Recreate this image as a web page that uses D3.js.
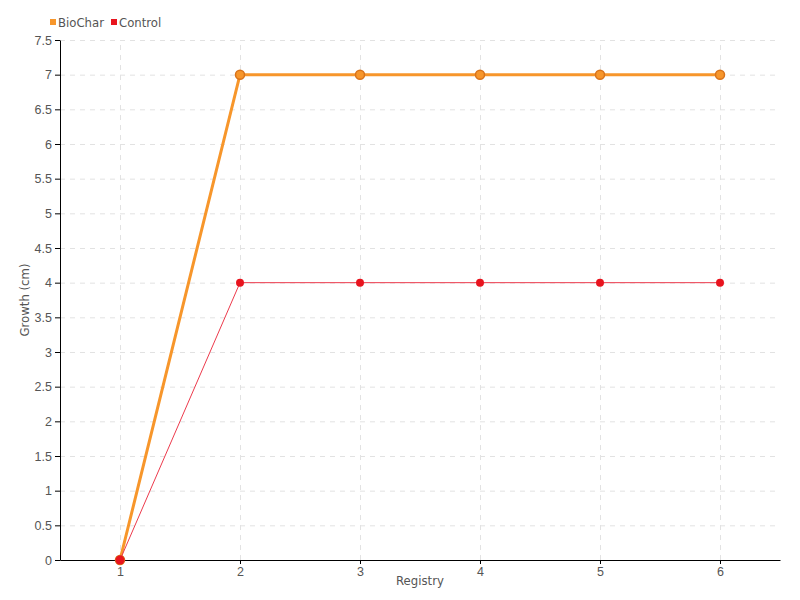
<!DOCTYPE html>
<style>
body { margin: 0; background: #fff; }
svg { font-family: "DejaVu Sans Condensed", sans-serif; }
.grid line { stroke: #e2e2e2; stroke-dasharray: 5,5; }
.grid path { display: none; }
.axis text { fill: #555; font-size: 12.5px; }
.axis path, .axis line { stroke: #000; }
</style>
<svg width="800" height="600"></svg>
<script src="https://cdn.jsdelivr.net/npm/d3@7"></script>
<script>

var registry = [1, 2, 3, 4, 5, 6];
var biochar = [0, 7, 7, 7, 7, 7];
var control = [0, 4, 4, 4, 4, 4];
var yTicks = [0, 0.5, 1, 1.5, 2, 2.5, 3, 3.5, 4, 4.5, 5, 5.5, 6, 6.5, 7, 7.5];

var margin = {top: 40, right: 20, bottom: 40, left: 60},
    width = 800 - margin.left - margin.right,
    height = 600 - margin.top - margin.bottom;

var svg = d3.select("svg");
var g = svg.append("g").attr("transform", "translate(" + margin.left + "," + margin.top + ")");

var x = d3.scaleLinear().domain([0.5, 6.5]).range([0, width]);
var y = d3.scaleLinear().domain([0, 7.5]).range([height, 0]);

// grid
g.append("g").attr("class", "grid")
  .call(d3.axisLeft(y).tickValues(yTicks).tickSize(-width).tickFormat(""));
g.append("g").attr("class", "grid")
  .attr("transform", "translate(0," + height + ")")
  .call(d3.axisBottom(x).tickValues(registry).tickSize(-height).tickFormat(""));

g.append("g").attr("class", "axis")
  .call(d3.axisLeft(y).tickValues(yTicks).tickSize(5).tickSizeOuter(0).tickFormat(d3.format("")));
g.append("g").attr("class", "axis")
  .attr("transform", "translate(0," + height + ")")
  .call(d3.axisBottom(x).tickValues(registry).tickSize(4).tickSizeOuter(0).tickFormat(d3.format("d")));

var line = d3.line()
  .x(function(d, i) { return x(registry[i]); })
  .y(function(d) { return y(d); });

// BioChar
g.append("path").datum(biochar)
  .attr("fill", "none").attr("stroke", "#f7962b").attr("stroke-width", 3)
  .attr("d", line);
g.selectAll(".bc").data(biochar).enter().append("circle")
  .attr("cx", function(d, i) { return x(registry[i]); })
  .attr("cy", function(d) { return y(d); })
  .attr("r", 4.5)
  .attr("fill", "#f7962b").attr("stroke", "#d9731a").attr("stroke-width", 1.5);

// Control
g.append("path").datum(control)
  .attr("fill", "none").attr("stroke", "#ec3a4c").attr("stroke-width", 1)
  .attr("d", line);
g.selectAll(".ct").data(control).enter().append("circle")
  .attr("cx", function(d, i) { return x(registry[i]); })
  .attr("cy", function(d) { return y(d); })
  .attr("r", function(d, i) { return i == 0 ? 4.5 : 4; })
  .attr("fill", "#e8141e");

// axis titles
svg.append("text")
  .attr("x", margin.left + width / 2).attr("y", 585)
  .attr("text-anchor", "middle").attr("fill", "#555").style("font-size", "13px")
  .text("Registry");
svg.append("text")
  .attr("transform", "translate(29," + (margin.top + height / 2) + ") rotate(-90)")
  .attr("text-anchor", "middle").attr("fill", "#555").style("font-size", "13px")
  .text("Growth (cm)");

// legend
var legend = [{name: "BioChar", color: "#f7962b"}, {name: "Control", color: "#e8141e"}];
var lx = [50, 111];
legend.forEach(function(l, i) {
  svg.append("rect").attr("x", lx[i]).attr("y", 19).attr("width", 6).attr("height", 6).attr("fill", l.color);
  svg.append("text").attr("x", lx[i] + 8).attr("y", 27)
    .attr("fill", "#555").style("font-size", "13px").text(l.name);
});
</script>
